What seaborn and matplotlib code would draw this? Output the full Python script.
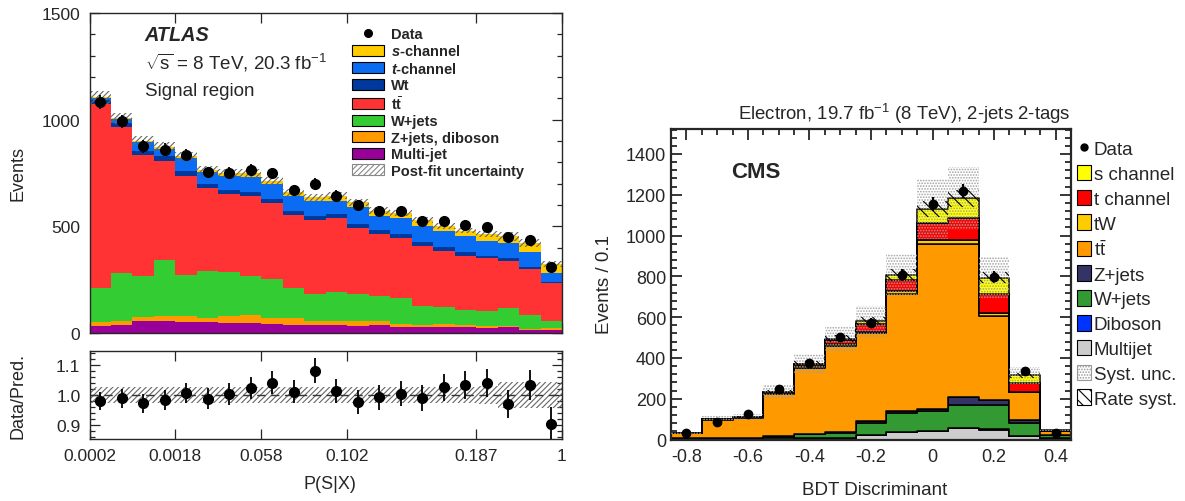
import numpy as np
import pandas as pd
import matplotlib
matplotlib.use("Agg")
import matplotlib.pyplot as plt
from matplotlib.patches import Patch
from matplotlib.lines import Line2D
from matplotlib.ticker import MultipleLocator, FixedLocator, NullLocator
import seaborn as sns

sns.set_style("ticks")
plt.rcParams["font.family"] = ["Liberation Sans", "DejaVu Sans"]
plt.rcParams["mathtext.fontset"] = "custom"
plt.rcParams["mathtext.rm"] = "Liberation Sans"
plt.rcParams["mathtext.it"] = "Liberation Sans:italic:bold"
plt.rcParams["mathtext.bf"] = "Liberation Sans:bold"
plt.rcParams["hatch.linewidth"] = 0.8

# ---------------- ATLAS (left) data ----------------
atlas_tick_pos = [0, 4, 8, 12, 18, 22]
atlas_tick_labels = ["0.0002", "0.0018", "0.058", "0.102", "0.187", "1"]
atlas_multijet = [33, 37, 58, 58, 53, 50, 48, 48, 42, 39, 37, 37, 34, 37, 27, 27, 28, 27, 22, 28, 16, 14]
atlas_zjets = [17, 19, 19, 22, 28, 19, 30, 38, 30, 30, 19, 21, 21, 21, 15, 12, 14, 9, 9, 6, 3, 8]
atlas_wjets = [159, 225, 190, 262, 192, 220, 206, 181, 181, 140, 127, 133, 128, 117, 120, 86, 78, 73, 74, 82, 65, 36]
atlas_ttbar = [864, 683, 567, 466, 464, 391, 368, 377, 355, 344, 348, 346, 308, 289, 282, 281, 266, 253, 245, 223, 216, 176]
atlas_wt = [17, 19, 21, 20, 24, 18, 20, 18, 20, 20, 19, 21, 20, 20, 20, 19, 16, 19, 12, 11, 11, 7]
atlas_tchan = [10, 20, 39, 34, 58, 55, 62, 71, 70, 71, 70, 62, 78, 66, 73, 78, 78, 72, 71, 72, 67, 40]
atlas_schan = [5, 3, 6, 10, 9, 9, 16, 15, 16, 15, 16, 24, 23, 23, 25, 28, 23, 27, 31, 31, 42, 42]
atlas_data = [1081, 992, 875, 859, 834, 753, 752, 764, 748, 669, 698, 644, 600, 573, 573, 527, 527, 506, 495, 448, 438, 308]
atlas_ratio = [0.980, 0.989, 0.972, 0.984, 1.007, 0.988, 1.004, 1.022, 1.042, 1.011, 1.082, 1.013,
               0.977, 0.993, 1.004, 0.991, 1.026, 1.033, 1.040, 0.971, 1.033, 0.904]
atlas_unc = [0.027, 0.027, 0.027, 0.027, 0.027, 0.027, 0.027, 0.027, 0.027, 0.027, 0.027, 0.027,
             0.027, 0.027, 0.027, 0.027, 0.027, 0.027, 0.030, 0.045, 0.045, 0.045]

atlas_names = ["s-channel", "t-channel", "Wt", "ttbar", "W+jets", "Z+jets, diboson", "Multi-jet"]
atlas_values = [atlas_schan, atlas_tchan, atlas_wt, atlas_ttbar, atlas_wjets, atlas_zjets, atlas_multijet]
atlas_colors = {"s-channel": "#ffcc00", "t-channel": "#0a6cf2", "Wt": "#00389b", "ttbar": "#ff3333",
                "W+jets": "#33cc33", "Z+jets, diboson": "#ff9900", "Multi-jet": "#990099"}
atlas_labels = [r"$\it{s}$-channel", r"$\it{t}$-channel", "Wt", r"t$\bar{\mathbf{t}}$", "W+jets",
                "Z+jets, diboson", "Multi-jet"]

# ---------------- CMS (right) data ----------------
cms_edges = [-0.85, -0.75, -0.65, -0.55, -0.45, -0.35, -0.25, -0.15, -0.05, 0.05, 0.15, 0.25, 0.35, 0.45]
cms_multijet = [2, 2, 2, 3, 6, 8, 20, 36, 41, 54, 46, 16, 6]
cms_diboson = [0, 0, 0, 1, 1, 1, 2, 2, 3, 3, 4, 2, 0]
cms_wjets = [2, 3, 4, 10, 19, 24, 60, 90, 95, 110, 119, 64, 14]
cms_zjets = [1, 1, 1, 1, 2, 3, 8, 11, 13, 43, 24, 13, 2]
cms_ttbar = [25, 91, 99, 209, 322, 422, 431, 573, 806, 748, 415, 136, 18]
cms_tw = [1, 2, 2, 4, 8, 12, 8, 18, 19, 21, 12, 3, 2]
cms_tchan = [1, 2, 2, 5, 10, 19, 38, 51, 87, 105, 92, 41, 2]
cms_schan = [1, 1, 1, 2, 3, 5, 13, 26, 66, 98, 82, 39, 2]
cms_data = [30, 88, 125, 246, 377, 501, 570, 807, 1154, 1220, 799, 336, 33]
cms_syst = 0.13
cms_rate = 0.035

cms_names = ["s channel", "t channel", "tW", "ttbar", "Z+jets", "W+jets", "Diboson", "Multijet"]
cms_values = [cms_schan, cms_tchan, cms_tw, cms_ttbar, cms_zjets, cms_wjets, cms_diboson, cms_multijet]
cms_colors = {"s channel": "#ffff00", "t channel": "#ff0000", "tW": "#ffcc00", "ttbar": "#ff9900",
              "Z+jets": "#333366", "W+jets": "#339933", "Diboson": "#0033ff", "Multijet": "#cccccc"}
cms_labels = ["s channel", "t channel", "tW", r"t$\bar{\mathrm{t}}$", "Z+jets", "W+jets", "Diboson", "Multijet"]

# ---------------- figure ----------------
W, H = 1185, 502
fig = plt.figure(figsize=(W / 100, H / 100), dpi=100)

def fax(x0, y0, x1, y1):
    return fig.add_axes([x0 / W, 1 - y1 / H, (x1 - x0) / W, (y1 - y0) / H])

ax1 = fax(89.5, 14, 562, 334)
ax2 = fax(89.5, 352, 562, 440)
ax3 = fax(671, 129.5, 1071, 440.5)

# ---- ATLAS main ----
nb = len(atlas_data)
edges = [float(i) for i in range(nb + 1)]
centers = np.arange(nb) + 0.5
rows = []
for name, vals in zip(atlas_names, atlas_values):
    for c, v in zip(centers, vals):
        rows.append({"x": c, "w": v, "comp": name})
df_a = pd.DataFrame(rows)
sns.histplot(data=df_a, x="x", weights="w", hue="comp", hue_order=atlas_names, palette=atlas_colors,
             multiple="stack", bins=edges, element="step", fill=True, alpha=1, linewidth=0,
             legend=False, ax=ax1)
total_a = np.sum(np.array(atlas_values), axis=0)
unc_a = np.array(atlas_unc)
lo = np.append(total_a * (1 - unc_a), total_a[-1] * (1 - unc_a[-1]))
hi = np.append(total_a * (1 + unc_a), total_a[-1] * (1 + unc_a[-1]))
ax1.fill_between(edges, lo, hi, step="post", facecolor="none", edgecolor="#666666", hatch="//////", linewidth=0)
ax1.errorbar(centers, atlas_data, yerr=np.sqrt(atlas_data), fmt="o", color="black", ms=7, elinewidth=1.3,
             capsize=0, zorder=5)
ax1.set_xlim(0, nb)
ax1.set_ylim(0, 1500)
ax1.xaxis.set_major_locator(FixedLocator(atlas_tick_pos))
ax1.xaxis.set_minor_locator(NullLocator())
ax1.set_xticklabels([])
ax1.yaxis.set_major_locator(MultipleLocator(500))
ax1.yaxis.set_minor_locator(MultipleLocator(100))
ax1.set_xlabel("")
ax1.set_ylabel("Events", fontsize=13)
ax1.yaxis.set_label_coords(-0.133, 0.5)
ax1.tick_params(axis="both", which="both", direction="in", top=True, right=True, labelsize=12.5)
ax1.tick_params(which="major", length=7, width=0.9)
ax1.tick_params(which="minor", length=3.5, width=0.9)
ax1.tick_params(axis="y", pad=6.5)
for s in ax1.spines.values():
    s.set_linewidth(1.0)

ax1.text(0.117, 0.934, "ATLAS", transform=ax1.transAxes, fontsize=14.3, fontweight="bold", fontstyle="italic",
         va="center", ha="left")
ax1.text(0.117, 0.848, r"$\sqrt{\mathrm{s}}$ = 8 TeV, 20.3 fb$^{\mathrm{-1}}$", transform=ax1.transAxes,
         fontsize=13.5, va="center", ha="left")
ax1.text(0.117, 0.759, "Signal region", transform=ax1.transAxes, fontsize=13.5, va="center", ha="left")

h_a = [Line2D([], [], marker="o", ls="none", color="black", ms=5.5)]
for name in atlas_names:
    h_a.append(Patch(facecolor=atlas_colors[name], edgecolor="black", linewidth=0.8))
h_a.append(Patch(facecolor="white", edgecolor="#888888", hatch="//////", linewidth=0.8))
lab_a = ["Data"] + atlas_labels + ["Post-fit uncertainty"]
ax1.legend(h_a, lab_a, loc="upper left", bbox_to_anchor=(352 / W, 1 - 28 / H), bbox_transform=fig.transFigure,
           frameon=False, prop={"weight": "bold", "size": 10.5}, handlelength=2.2, handleheight=0.8,
           handletextpad=0.5, labelspacing=0.17, borderpad=0, borderaxespad=0)

# ---- ATLAS ratio ----
unc_lo = np.append(1 - unc_a, 1 - unc_a[-1])
unc_hi = np.append(1 + unc_a, 1 + unc_a[-1])
ax2.fill_between(edges, unc_lo, unc_hi, step="post", facecolor="none", edgecolor="#666666",
                 hatch="//////", linewidth=0)
ax2.axhline(1.0, color="#333333", ls=(0, (6, 4)), lw=1.0)
ratio_err = np.sqrt(atlas_data) / total_a
ax2.errorbar(centers, atlas_ratio, yerr=ratio_err, fmt="o", color="black", ms=7, elinewidth=1.3, capsize=0,
             zorder=5)
ax2.set_xlim(0, nb)
ax2.set_ylim(0.852, 1.148)
ax2.xaxis.set_major_locator(FixedLocator(atlas_tick_pos))
ax2.xaxis.set_minor_locator(NullLocator())
ax2.set_xticklabels(atlas_tick_labels)
ax2.yaxis.set_major_locator(FixedLocator([0.9, 1.0, 1.1]))
ax2.yaxis.set_major_formatter(matplotlib.ticker.FormatStrFormatter("%.1f"))
ax2.yaxis.set_minor_locator(MultipleLocator(0.02))
ax2.tick_params(axis="both", which="both", direction="in", top=True, right=True, labelsize=12.5)
ax2.tick_params(which="major", length=7, width=0.9)
ax2.tick_params(which="minor", length=3.5, width=0.9)
ax2.tick_params(axis="x", pad=6.5)
ax2.tick_params(axis="y", pad=6.5)
ax2.set_ylabel("Data/Pred.", fontsize=13)
ax2.yaxis.set_label_coords(-0.133, 0.5)
ax2.set_xlabel("P(S|X)", fontsize=13)
ax2.xaxis.set_label_coords(0.508, -0.41)
for s in ax2.spines.values():
    s.set_linewidth(1.0)

# ---- CMS ----
cms_centers = (np.array(cms_edges[:-1]) + np.array(cms_edges[1:])) / 2
rows = []
for name, vals in zip(cms_names, cms_values):
    for c, v in zip(cms_centers, vals):
        rows.append({"x": c, "w": v, "comp": name})
df_c = pd.DataFrame(rows)
sns.histplot(data=df_c, x="x", weights="w", hue="comp", hue_order=cms_names, palette=cms_colors,
             multiple="stack", bins=cms_edges, element="step", fill=True, alpha=1, linewidth=1.1,
             edgecolor="black", legend=False, ax=ax3)
total_c = np.sum(np.array(cms_values), axis=0)
tc = np.append(total_c, total_c[-1])
ax3.fill_between(cms_edges, tc * (1 - cms_syst), tc * (1 + cms_syst), step="post", facecolor="none",
                 edgecolor="#a0a0a0", hatch="......", linewidth=0, zorder=3)
ax3.fill_between(cms_edges, tc * (1 - cms_rate), tc * (1 + cms_rate), step="post", facecolor="none",
                 edgecolor="black", hatch="\\\\\\", linewidth=0, zorder=3)
ax3.errorbar(cms_centers, cms_data, yerr=np.sqrt(cms_data), fmt="o", color="black", ms=6, elinewidth=1.6,
             capsize=0, zorder=5)
ax3.set_xlim(-0.85, 0.45)
ax3.set_ylim(0, 1525)
ax3.xaxis.set_major_locator(MultipleLocator(0.2))
ax3.xaxis.set_minor_locator(MultipleLocator(0.05))
ax3.xaxis.set_major_formatter(matplotlib.ticker.FuncFormatter(lambda v, p: "0" if abs(v) < 1e-9 else f"{v:.1f}"))
ax3.yaxis.set_major_locator(MultipleLocator(200))
ax3.yaxis.set_minor_locator(MultipleLocator(40))
ax3.tick_params(axis="both", which="both", direction="in", top=True, right=True, labelsize=13)
ax3.tick_params(which="major", length=8, width=1.3)
ax3.tick_params(which="minor", length=4.5, width=1.3)
ax3.tick_params(axis="x", pad=6)
ax3.set_ylabel("Events / 0.1", fontsize=13.5)
ax3.yaxis.set_label_coords(-0.144, 0.5)
ax3.set_xlabel("BDT Discriminant", fontsize=13.5)
ax3.xaxis.set_label_coords(0.51, -0.133)
for s in ax3.spines.values():
    s.set_linewidth(1.6)
ax3.text(1.0, 1.012, r"Electron, 19.7 fb$^{\mathrm{-1}}$ (8 TeV), 2-jets 2-tags", transform=ax3.transAxes,
         ha="right", va="bottom", fontsize=13.4)
ax3.text(0.15, 0.863, "CMS", transform=ax3.transAxes, fontsize=16, fontweight="bold", va="center", ha="left")

h_c = [Line2D([], [], marker="o", ls="none", color="black", ms=5)]
for name in cms_names:
    h_c.append(Patch(facecolor=cms_colors[name], edgecolor="black", linewidth=0.8))
h_c.append(Patch(facecolor="white", edgecolor="#999999", hatch="......", linewidth=0.8))
h_c.append(Patch(facecolor="white", edgecolor="black", hatch="\\\\\\", linewidth=0.8))
lab_c = ["Data"] + cms_labels + ["Syst. unc.", "Rate syst."]
ax3.legend(h_c, lab_c, loc="upper left", bbox_to_anchor=(1077 / W, 1 - 141 / H), bbox_transform=fig.transFigure,
           frameon=False, prop={"size": 13.5}, handlelength=0.75, handleheight=0.9, handletextpad=0.15,
           labelspacing=0.35, borderpad=0, borderaxespad=0)

fig.savefig("out.png", dpi=100)
